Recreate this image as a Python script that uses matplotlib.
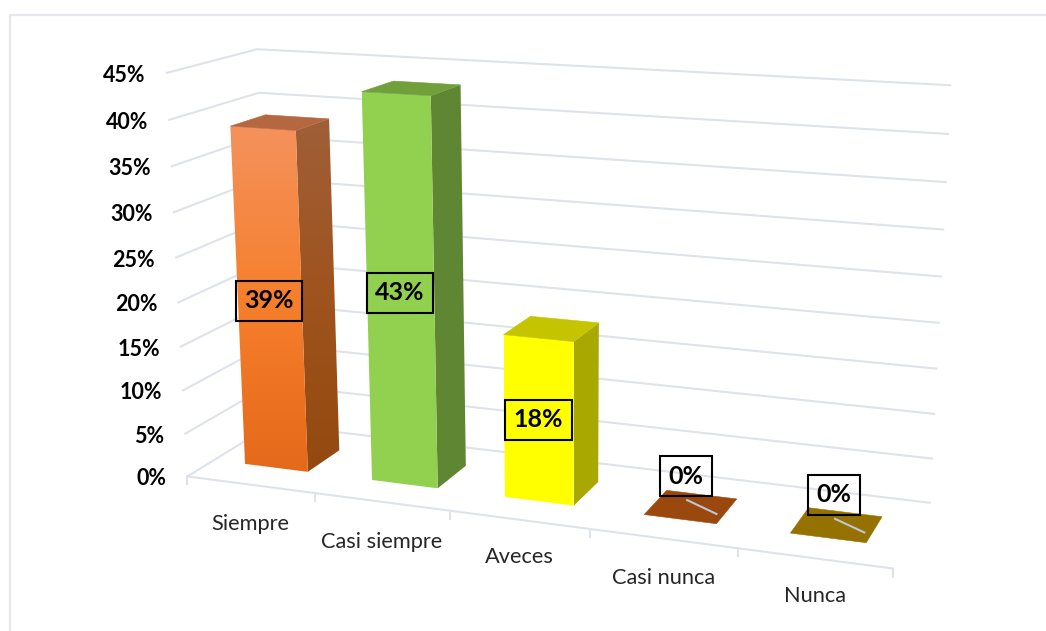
import numpy as np
import matplotlib
matplotlib.use("Agg")
import matplotlib.pyplot as plt
from matplotlib.patches import Polygon

plt.rcParams['font.family'] = ['Lato', 'DejaVu Sans']

# ---- data ----
categories = ['Siempre', 'Casi siempre', 'Aveces', 'Casi nunca', 'Nunca']
values = [38.6, 43.2, 18.2, 0, 0]
value_labels = ['39%', '43%', '18%', '0%', '0%']
y_ticks = [0, 5, 10, 15, 20, 25, 30, 35, 40, 45]

# ---- colours ----
front_top = ['#F4925C', '#92D050', '#FFFF00', '#9A480E', '#957200']
front_mid = ['#F67F2D', '#92D050', '#FFFF00', '#9A480E', '#957200']
front_bot = ['#E5691A', '#92D050', '#FFFF00', '#9A480E', '#957200']
side_top = ['#A05F38', '#5F8733', '#A8A800', '#9A480E', '#957200']
side_mid = ['#9F531E', '#5F8733', '#A8A800', '#9A480E', '#957200']
side_bot = ['#93490F', '#5F8733', '#A8A800', '#9A480E', '#957200']
cap_col = ['#B5683F', '#709F3C', '#C4C400', '#9A480E', '#957200']
GRID = '#DEE3EA'

# ---- camera calibration: (category pos, depth, value) -> pixel ----
calib_world = [(0, 0, w) for w in y_ticks] + [(5, 1, w) for w in y_ticks] + \
    [(0, 1, 45), (0, 1, 40), (0, 1, 0), (1, 0, 0), (2, 0, 0), (3, 0, 0), (4, 0, 0), (5, 0, 0)]
calib_pixel = [(188, 476), (185, 433), (183, 390), (180, 346), (178, 302),
               (176, 258), (174, 212), (172, 167), (169, 120), (167, 73),
               (930, 503), (931.5, 458), (934, 414), (936, 368), (939, 323),
               (941, 276.5), (943, 229.5), (946, 182), (948, 134), (950, 85),
               (257, 49), (259, 93), (272, 425),
               (316, 493), (450, 511), (590, 530), (738, 549), (893, 568)]


def fit_camera(world, pixel):
    rows = []
    for (u, v, w), (x, y) in zip(world, pixel):
        X = [u / 5, v, w / 45, 1]
        x, y = x / 1000, y / 1000
        rows.append(X + [0, 0, 0, 0] + [-x * c for c in X])
        rows.append([0, 0, 0, 0] + X + [-y * c for c in X])
    return np.linalg.svd(np.array(rows))[2][-1].reshape(3, 4)


CAM = fit_camera(calib_world, calib_pixel)


def proj(u, v, w):
    h = CAM @ np.array([u / 5, v, w / 45, 1.0])
    return h[0] / h[2] * 1000, h[1] / h[2] * 1000


fig = plt.figure(figsize=(10.46, 6.31), dpi=100, facecolor='white')
ax = fig.add_axes([0, 0, 1, 1])
ax.axis('off')


def grad_face(pts, c_top, c_mid, c_bot):
    """Fill a polygon with a vertical three-stop colour gradient."""
    xs, ys = zip(*pts)
    stops = np.array([matplotlib.colors.to_rgb(c) for c in (c_top, c_mid, c_bot)])
    t = np.linspace(0, 1, 256)
    arr = np.stack([np.interp(t, [0, 0.5, 1], stops[:, k]) for k in range(3)], axis=1)[:, None, :]
    im = ax.imshow(arr, extent=(min(xs), max(xs), max(ys), min(ys)), aspect='auto',
                   interpolation='bilinear', zorder=4)
    im.set_clip_path(Polygon(pts, closed=True, transform=ax.transData))


# chart frame
ax.plot([9.5, 9.5, 1046], [631, 14.5, 14.5], color='#E4E7EE', lw=1.6, zorder=1)

# gridlines on side and back wall
for w in y_ticks:
    pts = [proj(0, 0, w), proj(0, 1, w), proj(5, 1, w)]
    ax.plot(*zip(*pts), color=GRID, lw=1.5, zorder=2, solid_joinstyle='miter')
    fx, fy = proj(0, 0, w)
    ax.text(fx - 21, fy + 2.5, f'{w}%', ha='right', va='center', fontsize=15.5,
            fontweight='bold', color='black', zorder=6)

# floor front edge and tick marks
ax.plot(*zip(proj(0, 0, 0), proj(5, 0, 0)), color=GRID, lw=1.5, zorder=2)
for i in range(6):
    tx, ty = proj(i, 0, 0)
    ax.plot([tx, tx], [ty, ty + 8], color=GRID, lw=1.5, zorder=2)

# category labels
label_shift = [39, 40, 37, 39, 38]
for i, c in enumerate(categories):
    mx, my = proj(i + 0.5, 0, 0)
    ax.text(mx, my + label_shift[i], c, ha='center', va='center',
            fontsize=15.7, color='#262626', zorder=6)

# bars
UA, UB = 0.25, 0.75
VA, VB = 0.3, 0.7

for i, val in enumerate(values):
    a, b = i + UA, i + UB
    if val > 0:
        grad_face([proj(b, VA, 0), proj(b, VB, 0), proj(b, VB, val), proj(b, VA, val)],
                  side_top[i], side_mid[i], side_bot[i])
        grad_face([proj(a, VA, 0), proj(b, VA, 0), proj(b, VA, val), proj(a, VA, val)],
                  front_top[i], front_mid[i], front_bot[i])
    ax.fill(*zip(proj(a, VA, val), proj(b, VA, val), proj(b, VB, val), proj(a, VB, val)),
            color=cap_col[i], lw=0.4, zorder=4.5)

# data labels
for i, (val, lab) in enumerate(zip(values, value_labels)):
    cx, cy = proj(i + 0.5, VA, val / 2)
    box = dict(boxstyle='square,pad=0.34', fc='none', ec='black', lw=1.5)
    if val > 0:
        ax.text(cx - 0.5, cy - 1, lab, ha='center', va='center', fontsize=18, fontweight='bold',
                color='black', bbox=box, zorder=8)
    else:
        ex, ey = proj(i + UB - 0.05, VA + 0.14, 0)
        ax.plot([cx + 7, ex], [cy - 19, ey], color='#BCC6D6', lw=1.5, zorder=5)
        ax.text(cx + 5.5, cy - 43, lab, ha='center', va='center', fontsize=18, fontweight='bold',
                color='black', bbox=box, zorder=8)

ax.set_xlim(0, 1046)
ax.set_ylim(631, 0)
fig.savefig('out.png', dpi=100)
